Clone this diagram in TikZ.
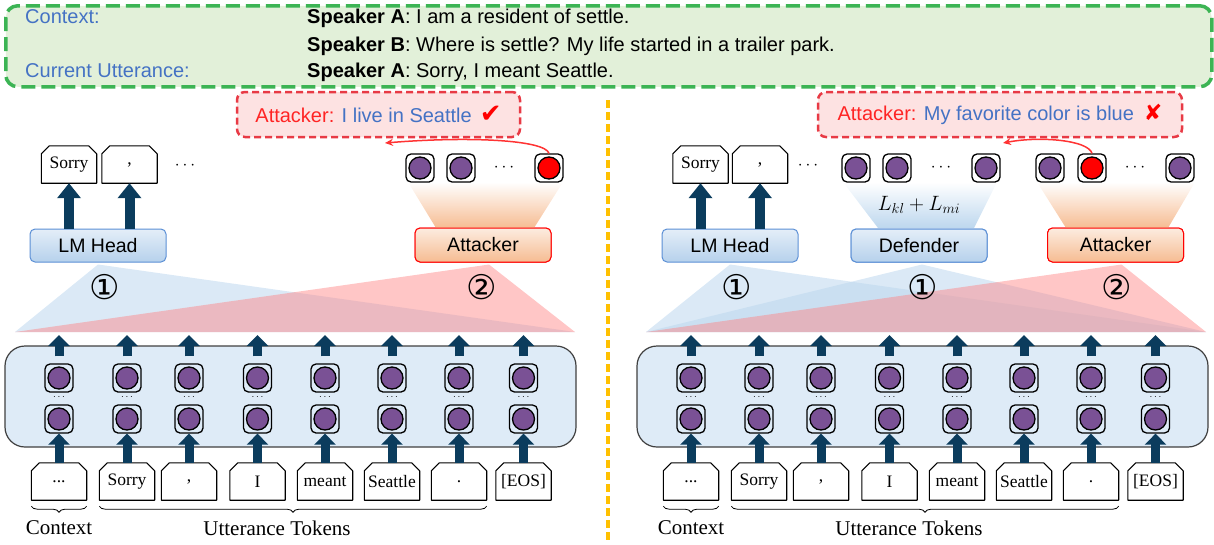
\documentclass[tikz,border=0pt]{standalone}
\usepackage{fontspec}
\setmainfont{Liberation Sans}
\newfontfamily\serifF{Liberation Serif}
\newfontfamily\symF{DejaVu Sans}
\usetikzlibrary{arrows.meta,decorations.pathreplacing,calc}
\definecolor{arrowc}{HTML}{0B3C5D}
\definecolor{purp}{HTML}{7A5195}
\definecolor{encfill}{HTML}{DEEBF7}
\definecolor{greenb}{HTML}{3CB454}
\definecolor{greenf}{HTML}{E2F0D9}
\definecolor{bluet}{HTML}{4472C4}
\definecolor{redt}{HTML}{FF2424}
\definecolor{pinkf}{HTML}{FDE2E2}
\definecolor{bubred}{HTML}{E83A45}
\definecolor{lmtop}{HTML}{E4EEF8}
\definecolor{lmbot}{HTML}{B6D1EC}
\definecolor{lmborder}{HTML}{5B8FD5}
\definecolor{atttop}{HTML}{FCECE0}
\definecolor{attbot}{HTML}{F6BC92}
\definecolor{orangeline}{HTML}{FFC000}
\definecolor{triblue}{HTML}{BDD7EE}
\definecolor{trired}{HTML}{FF8080}
\newcommand\house[1]{\draw[line width=1.1pt,line join=round] (#1.south west) -- ($(#1.north west)+(0,8)$) -- ($(#1.north west)+(8,0)$) -- ($(#1.north east)+(-8,0)$) -- ($(#1.north east)+(0,8)$) -- (#1.south east) -- cycle;}
\newcommand\cellnode[4]{\node[sq] (#1) at (#2,#3) {}; \node[dot,fill=#4] (#1c) at (#1) {};}
\tikzset{
  tok/.style={minimum width=55pt, minimum height=37pt, inner sep=0pt, font=\serifF\fontsize{17.5}{17.5}\selectfont},
  sq/.style={draw, line width=1.3pt, rounded corners=5pt, minimum size=28pt, inner sep=0pt},
  dot/.style={circle, draw, line width=1.3pt, minimum size=22pt, inner sep=0pt},
  bigarr/.style={arrowc, line width=10pt, -{Triangle[width=23pt,length=15pt]}},
  smarr/.style={arrowc, line width=9pt, -{Triangle[width=21pt,length=11pt]}},
  lmbox/.style={draw=lmborder, line width=1pt, rounded corners=5pt, top color=lmtop, bottom color=lmbot, minimum width=136pt, minimum height=33pt, inner sep=0pt, font=\fontsize{19.5}{19.5}\selectfont},
  attbox/.style={draw=red, line width=1pt, rounded corners=5pt, top color=atttop, bottom color=attbot, minimum width=136pt, minimum height=34pt, inner sep=0pt, font=\fontsize{19.5}{19.5}\selectfont},
  bubble/.style={draw=bubred, fill=pinkf, line width=2.5pt, dash pattern=on 7pt off 4pt, rounded corners=8pt, minimum height=45pt, inner sep=0pt, font=\fontsize{20}{20}\selectfont},
  redarr/.style={draw=red!80, line width=1.5pt, -{Stealth[length=8pt,width=7pt]}},
  enc/.style={draw=black!75, line width=1.2pt, fill=encfill, rounded corners=20pt, minimum width=571pt, minimum height=101pt, inner sep=0pt},
  circnum/.style={font=\symF\fontsize{34}{34}\selectfont, inner sep=0pt},
  ctxt/.style={anchor=base west, inner sep=0pt, font=\fontsize{20}{20}\selectfont},
  lab/.style={font=\serifF\fontsize{21}{21}\selectfont, inner sep=0pt},
  brc/.style={decorate, decoration={brace, mirror, amplitude=6pt}, line width=0.8pt},
  dotsn/.style={font=\fontsize{16}{16}\selectfont, inner sep=0pt},
  smdots/.style={font=\fontsize{10}{10}\selectfont, inner sep=0pt}
}
\begin{document}
\begin{tikzpicture}[x=1pt,y=-1pt]
\useasboundingbox (0,0) rectangle (1214,544);
% context box
\node[draw=greenb, fill=greenf, line width=3.5pt, dash pattern=on 14pt off 6pt, rounded corners=12pt, minimum width=1206pt, minimum height=81pt, anchor=north west, inner sep=0pt] (ctxbox) at (4,4) {};
\node[ctxt, bluet] (t1) at (25,23) {Context:};
\node[ctxt] (t2) at (307,23) {\textbf{Speaker A}: I am a resident of settle.};
\node[ctxt] (t3) at (307,51) {\textbf{Speaker B}: Where is settle? My life started in a trailer park.};
\node[ctxt, bluet] (t4) at (25,77) {Current Utterance:};
\node[ctxt] (t5) at (307,77) {\textbf{Speaker A}: Sorry, I meant Seattle.};
% separator
\draw[orangeline, line width=3.5pt, dash pattern=on 8pt off 4pt] (608,100) -- (608,541);

% ---------- triangles ----------
\node[lmbox] (lmL) at (98,245.5) {LM Head};
\node[attbox] (attL) at (483,245) {Attacker};
\node[lmbox] (lmR) at (730,245.5) {LM Head};
\node[lmbox] (defR) at (919,245.5) {Defender};
\node[attbox] (attR) at (1115.5,245) {Attacker};
\coordinate (bL1) at (15,332); \coordinate (bL2) at (575,332);
\coordinate (bR1) at (646,332); \coordinate (bR2) at (1206,332);
\fill[triblue, opacity=0.55] ($(lmL.south)+(0,2)$) -- (bL1) -- (bL2) -- cycle;
\fill[trired, opacity=0.45] ($(attL.south)+(6,2)$) -- (bL1) -- (bL2) -- cycle;
\fill[triblue, opacity=0.55] ($(lmR.south)+(0,2)$) -- (bR1) -- (bR2) -- cycle;
\fill[triblue, opacity=0.55] ($(defR.south)+(3,2)$) -- (bR1) -- (bR2) -- cycle;
\fill[trired, opacity=0.45] ($(attR.south)+(6,2)$) -- (bR1) -- (bR2) -- cycle;
\node[circnum] (n1L) at (105,287) {①};
\node[circnum] (n2L) at (482,287) {②};
\node[circnum] (n1R) at (737,287) {①};
\node[circnum] (n1R2) at (923,287) {①};
\node[circnum] (n2R) at (1117,287) {②};

% ---------- trapezoids ----------
\shade[top color=white, bottom color=attbot] (408,182) -- (563,182) -- (534,228) -- (436,228) -- cycle;
\shade[top color=white, bottom color=attbot] (1037,182) -- (1195,182) -- (1168,228) -- (1066,228) -- cycle;
\shade[top color=white, bottom color=triblue] (843,182) -- (997,182) -- (974,228) -- (878,228) -- cycle;
\node[font=\fontsize{21}{21}\selectfont] (loss) at (919,205) {$L_{kl}+L_{mi}$};
% redraw boxes above trapezoids
\node[attbox] at (attL) {Attacker};
\node[attbox] at (attR) {Attacker};
\node[lmbox] at (defR) {Defender};

% ---------- output tokens left ----------
\node[tok] (oSL) at (69,164.5) {Sorry}; \house{oSL}
\node[tok] (oCL) at (129.5,164.5) {,}; \house{oCL}
\node[dotsn] (odL) at (185,166) {$\cdots$};
\draw[bigarr] (lmL.north -| oSL) -- (oSL.south);
\draw[bigarr] (lmL.north -| oCL) -- (oCL.south);
\cellnode{aL1}{420}{168}{purp}
\cellnode{aL2}{461}{168}{purp}
\node[dotsn] (adL) at (504,168) {$\cdots$};
\cellnode{aL3}{549}{168}{red}
\node[bubble, minimum width=283pt] (bubL) at (378.5,114.5) {\color{redt}Attacker: \color{bluet}I live in Seattle\hspace{8pt}{\symF\fontsize{26}{26}\selectfont\color{red}✔}};
\coordinate (tipL) at (385,143);
\draw[redarr] (aL3.north) .. controls (545,140) and (470,136) .. (tipL);

% ---------- output tokens right ----------
\node[tok] (oSR) at (700.5,164.5) {Sorry}; \house{oSR}
\node[tok] (oCR) at (760,164.5) {,}; \house{oCR}
\node[dotsn] (odR) at (808,166) {$\cdots$};
\draw[bigarr] (lmR.north -| oSR) -- (oSR.south);
\draw[bigarr] (lmR.north -| oCR) -- (oCR.south);
\cellnode{dR1}{856}{168}{purp}
\cellnode{dR2}{897}{168}{purp}
\node[dotsn] (ddR) at (941,168) {$\cdots$};
\cellnode{dR3}{986}{168}{purp}
\cellnode{aR1}{1050}{168}{purp}
\cellnode{aR2}{1092}{168}{red}
\node[dotsn] (adR) at (1135,168) {$\cdots$};
\cellnode{aR3}{1180}{168}{purp}
\node[bubble, minimum width=364pt] (bubR) at (1000,114.5) {\color{redt}Attacker: \color{bluet}My favorite color is blue\hspace{10pt}{\symF\fontsize{22}{22}\selectfont\color{red}✘}};
\coordinate (tipR) at (1003,143);
\draw[redarr] (aR2.north) .. controls (1088,140) and (1040,136) .. (tipR);

% ---------- encoders ----------
\foreach \off/\p in {0/L,632/R}{
  \node[enc] (enc\p) at (290.5+\off,396.5) {};
  \foreach \x/\t [count=\i] in {59/{...},127/Sorry,189/{,},257.5/I,325/meant,392/Seattle,459/.,523.5/{[EOS]}}{
    \cellnode{u\p\i}{\x+\off}{378}{purp}
    \cellnode{l\p\i}{\x+\off}{419}{purp}
    \node[smdots] (m\p\i) at (\x+\off,397) {$\cdots$};
    \node[tok] (k\p\i) at (\x+\off,481.5) {\t}; \house{k\p\i}
    \draw[smarr] (k\p\i.north) -- (l\p\i.south);
    \coordinate (top\p\i) at (\x+\off,335);
    \draw[smarr] ($(u\p\i.north)+(0,-7)$) -- (top\p\i);
  }
  \draw[brc] ($(k\p1.south west)+(0,6)$) -- ($(k\p1.south east)+(0,6)$);
  \draw[brc] ($(k\p2.south west)+(0,6)$) -- ($(k\p7.south east)+(0,6)$);
  \node[lab] (cx\p) at (59+\off,528) {Context};
  \node[lab] (ut\p) at (277+\off,528) {Utterance Tokens};
}
\end{tikzpicture}
\end{document}
